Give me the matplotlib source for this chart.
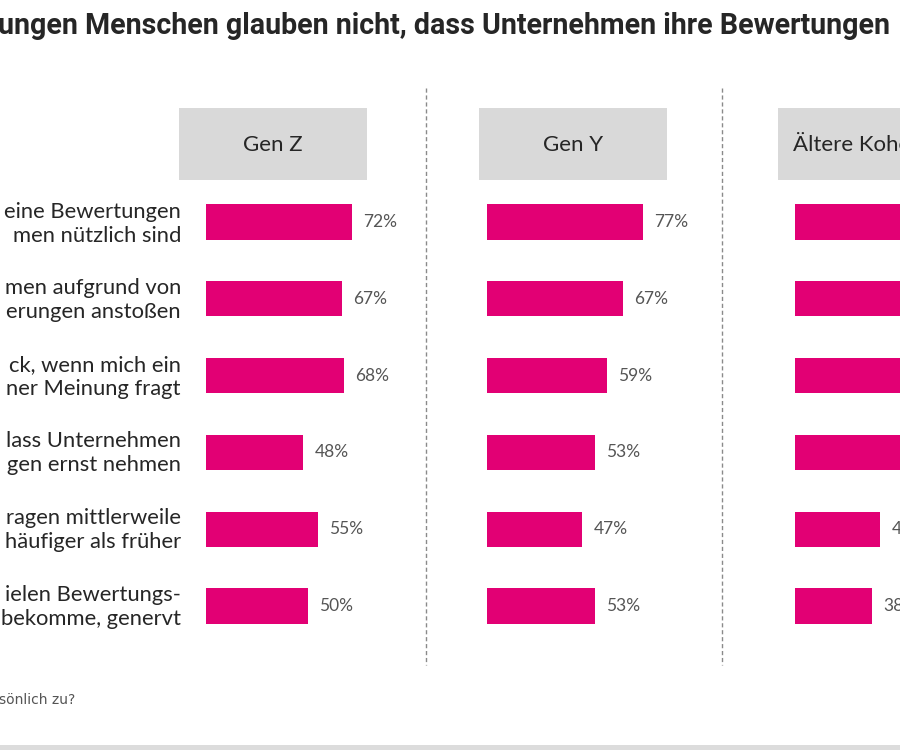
import matplotlib.pyplot as plt
from matplotlib.patches import Rectangle

# Daten (Anteil Zustimmung in %)
kohorten = ["Gen Z", "Gen Y", "Ältere Kohorten"]
gen_z = [72, 67, 68, 48, 55, 50]
gen_y = [77, 67, 59, 53, 47, 53]
aeltere = [70, 66, 62, 58, 42, 38]  # erste vier im Ausschnitt abgeschnitten, geschätzt

aussagen = [
    "eine Bewertungen\nmen nützlich sind",
    "men aufgrund von\nerungen anstoßen",
    "ck, wenn mich ein\nner Meinung fragt",
    "lass Unternehmen\ngen ernst nehmen",
    "ragen mittlerweile\nhäufiger als früher",
    "ielen Bewertungs-\nbekomme, genervt",
]
titel = "ungen Menschen glauben nicht, dass Unternehmen ihre Bewertungen"
fussnote = "sönlich zu?"

MAGENTA = "#e20074"
GRAU_BOX = "#d9d9d9"
TEXT = "#262626"

W, H = 900, 750
fig = plt.figure(figsize=(9, 7.5), dpi=100)

# Hintergrund-Achse in Pixelkoordinaten für Texte, Boxen, Linien
bg = fig.add_axes([0, 0, 1, 1])
bg.set_xlim(0, W)
bg.set_ylim(H, 0)
bg.axis("off")

bg.text(-2, 26, titel, fontsize=20.6, fontweight="bold", family="Roboto",
        color=TEXT, va="center", ha="left", clip_on=True)

# Kopfboxen
box_x = [179, 479, 778]
for x, name in zip(box_x, kohorten):
    bg.add_patch(Rectangle((x, 108), 188, 72, color=GRAU_BOX, lw=0))
    bg.text(x + 94, 145, name, fontsize=16, family="Lato", color=TEXT,
            ha="center", va="center", clip_on=True)

# gestrichelte Trennlinien
for x in [426, 722]:
    bg.plot([x, x], [88, 665], ls=(0, (3, 2)), color="#8a8a8a", lw=1)

# Aussagen links
y_pos = [224, 300, 377, 453, 530, 607]
for y, t in zip(y_pos, aussagen):
    bg.text(181, y, t, fontsize=15.8, family="Lato", color=TEXT,
            ha="right", va="center", linespacing=1.3, clip_on=True)

bg.text(-1, 700, fussnote, fontsize=10, family="Liberation Sans Narrow",
        color="#555555", ha="left", va="center")

bg.add_patch(Rectangle((0, 745), W, 5, color="#dcdcdc", lw=0))

# Balken-Achsen
starts = [206, 487, 795]
px_per_pct = 2.03
bottom = 1 - 644.4 / H
height = 460.8 / H
for x0, werte in zip(starts, [gen_z, gen_y, aeltere]):
    ax = fig.add_axes([x0 / W, bottom, 100 * px_per_pct / W, height])
    ax.barh(range(len(werte)), werte, height=0.46, color=MAGENTA)
    ax.set_xlim(0, 100)
    ax.set_ylim(5.5, -0.5)
    ax.axis("off")
    ax.patch.set_alpha(0)
    for i, v in enumerate(werte):
        # Beschriftungen, die ganz außerhalb des Ausschnitts liegen, weglassen
        if x0 + (v + 5.5) * px_per_pct > W - 4:
            continue
        ax.text(v + 5.5, i, f"{v}%", fontsize=12.5, family="Lato",
                color="#555555", va="center", ha="left")

fig.savefig("out.png", dpi=100)
